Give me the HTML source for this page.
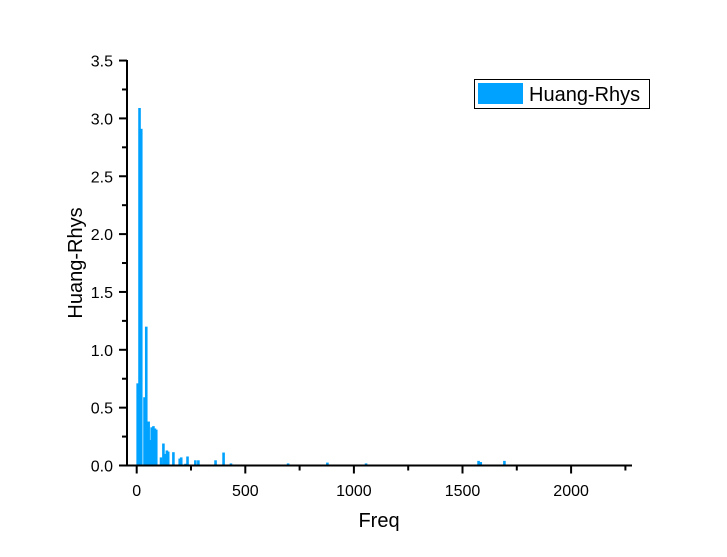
<!DOCTYPE html>
<html><head><meta charset="utf-8"><style>
body{margin:0;background:#fff;}
svg{display:block;font-family:"Liberation Sans",Arial,sans-serif;}
</style></head><body>
<svg id="chart" width="727" height="557" viewBox="0 0 727 557">
<rect width="727" height="557" fill="#fff"/>
<g id="bars"></g>
<g id="axes"></g>
<text x="379" y="527" font-size="20" text-anchor="middle">Freq</text>
<text transform="translate(82,263) rotate(-90)" font-size="20" text-anchor="middle">Huang-Rhys</text>
<g>
<rect x="474.5" y="79.5" width="175" height="29" fill="#fff" stroke="#000" stroke-width="1"/>
<rect x="478" y="83" width="45" height="21" fill="#00a2ff"/>
<text x="529" y="101" font-size="20">Huang-Rhys</text>
</g>
</svg>
<script>
const freqs = [4.5,13,21,36,44,55,63,69,77,84,90,112,123,132,139,145,169,198,205,225,234,270,284,363,400,434,697,878,1056,1574,1584,1693];
const values = [0.71,3.09,2.91,0.59,1.20,0.38,0.22,0.33,0.34,0.32,0.31,0.07,0.19,0.10,0.13,0.12,0.115,0.06,0.07,0.015,0.078,0.045,0.045,0.045,0.112,0.018,0.018,0.025,0.018,0.04,0.03,0.04];
const xTicks = [0,500,1000,1500,2000];
const yTicks = [0.0,0.5,1.0,1.5,2.0,2.5,3.0,3.5];
const X0=136.7, XS=0.2172, Y0=465.5, YS=115.7;
const xs=v=>X0+v*XS, ys=v=>Y0-v*YS;
const NS='http://www.w3.org/2000/svg';
const bars=document.getElementById('bars'), axes=document.getElementById('axes');
function mk(tag,attrs,parent){const e=document.createElementNS(NS,tag);for(const k in attrs)e.setAttribute(k,attrs[k]);parent.appendChild(e);return e;}
freqs.forEach((f,i)=>{
  const r=mk('rect',{x:xs(f)-1.3,y:ys(values[i]),width:2.6,height:Y0-ys(values[i]),fill:'#00a2ff'},bars);
  
  
});
const xl=mk('line',{x1:126,y1:Y0,x2:632,y2:Y0,stroke:'#000','stroke-width':2},axes);


const yl=mk('line',{x1:127,y1:60,x2:127,y2:466.5,stroke:'#000','stroke-width':2},axes);


for(let v=0;v<=2250;v+=250){
  const major=v%500===0;
  mk('line',{x1:xs(v),y1:Y0,x2:xs(v),y2:Y0+(major?8:5),stroke:'#000','stroke-width':2},axes);
}
xTicks.forEach(v=>{
  const t=mk('text',{x:xs(v),y:496,'font-size':16,'text-anchor':'middle'},axes);
  t.textContent=String(v);
  
  
});
for(let v=0;v<=3.5001;v+=0.25){
  const major=Math.abs(v*2-Math.round(v*2))<1e-6;
  mk('line',{x1:127,y1:ys(v),x2:127-(major?8:5),y2:ys(v),stroke:'#000','stroke-width':2},axes);
}
yTicks.forEach(v=>{
  const t=mk('text',{x:113,y:ys(v)+6,'font-size':16,'text-anchor':'end'},axes);
  t.textContent=v.toFixed(1);
  
  
});
</script>
</body></html>
